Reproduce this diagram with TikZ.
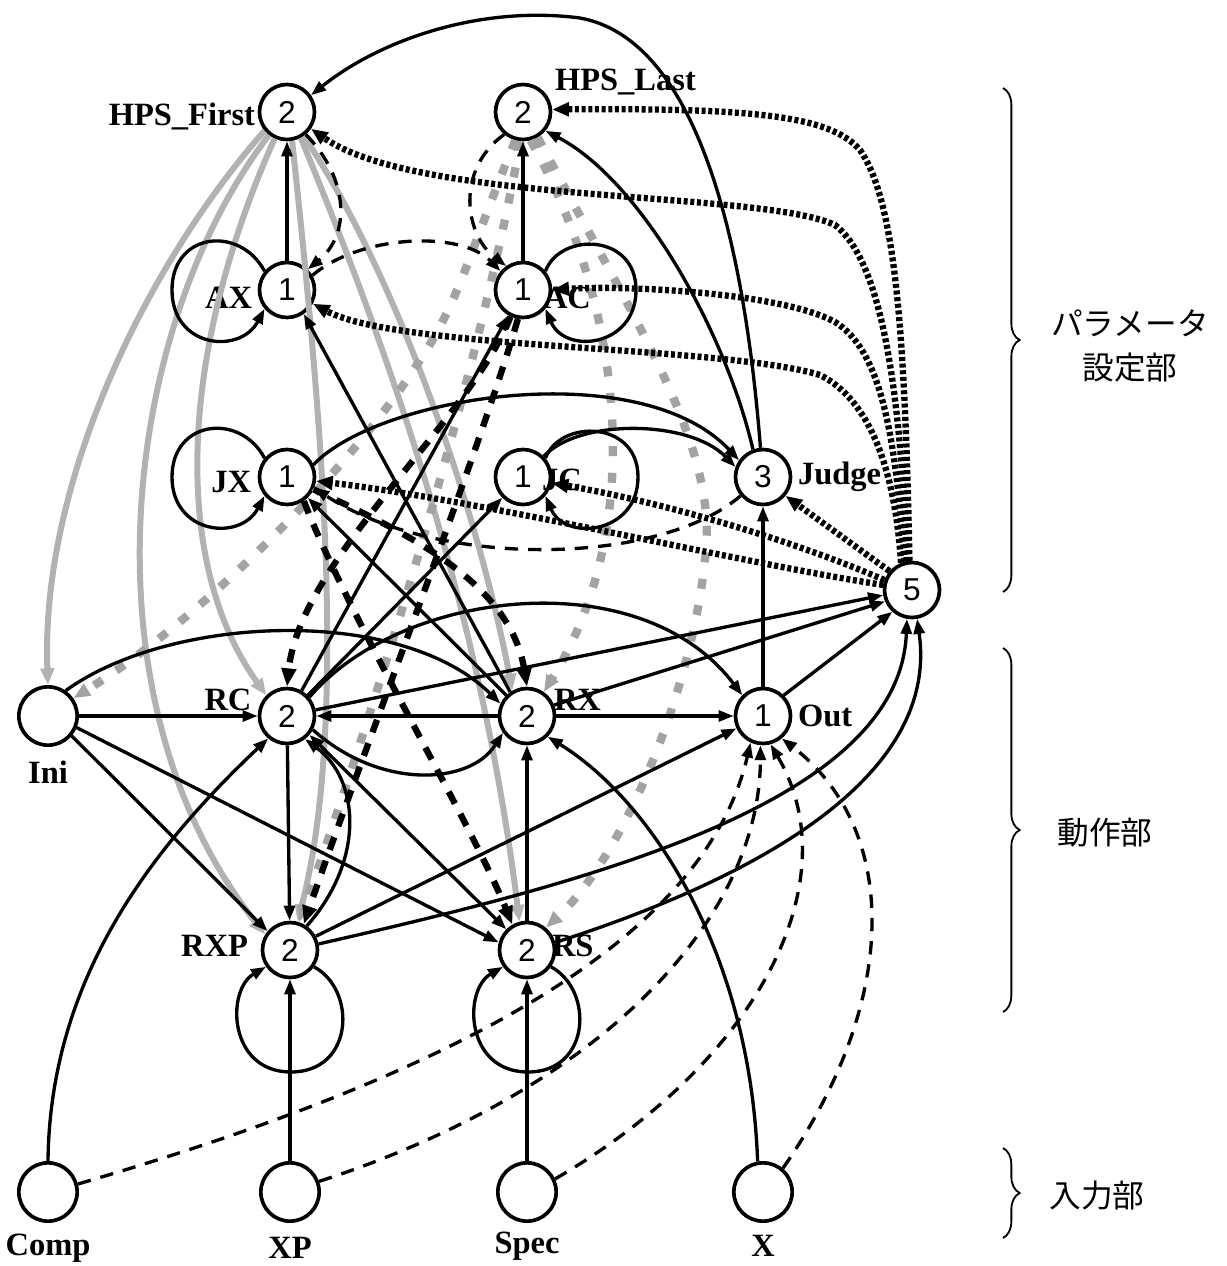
\documentclass[tikz,border=0pt]{standalone}
\usepackage{fontspec}
\setmainfont{Liberation Serif}
\newfontfamily\numfont{Liberation Sans}
\newfontfamily\jpfont{Noto Sans CJK JP}
\usetikzlibrary{arrows.meta,decorations.pathreplacing}
\begin{document}
\begin{tikzpicture}[x=0.6pt,y=-0.6pt,
  nd/.style={circle,draw,line width=2.2pt,minimum size=33pt,inner sep=0pt,font=\numfont\fontsize{19}{19}\selectfont},
  inp/.style={circle,draw,line width=2.2pt,minimum size=35pt,inner sep=0pt},
  lbl/.style={font=\bfseries\fontsize{19.5}{19.5}\selectfont,inner sep=1pt},
  jp/.style={font=\jpfont\fontsize{19}{26}\selectfont,align=center},
  tipa/.style={-{Triangle[length=9pt,width=6.5pt]}},
  sol/.style={line width=2pt,tipa},
  dsh/.style={line width=2pt,dash pattern=on 8pt off 6pt,tipa},
  tdsh/.style={line width=3.8pt,dash pattern=on 8pt off 7pt,-{Triangle[length=11pt,width=8.5pt]}},
  hatch/.style={line width=3.8pt,dash pattern=on 2.4pt off 1.6pt,-{Triangle[length=10pt,width=8pt]}},
  gdot/.style={draw=black!30,line width=3.6pt,-{Triangle[length=10pt,width=8pt,fill=black!30]}},
  gdsh/.style={draw=black!36,line width=5pt,dash pattern=on 6pt off 10pt,-{Triangle[length=10pt,width=8pt,fill=black!36]}},
  brc/.style={line width=1.1pt,decorate,decoration={brace,amplitude=10pt}}
]
\useasboundingbox (0,0) rectangle (1226,1266);

% nodes
\node[nd] (HF) at (287,112) {2};
\node[nd] (HL) at (523,112) {2};
\node[nd] (AX) at (287,290) {1};
\node[nd] (AC) at (523,290) {1};
\node[nd] (JX) at (287,477) {1};
\node[nd] (JC) at (523,477) {1};
\node[nd] (J) at (763,477) {3};
\node[nd] (F) at (912,590) {5};
\node[inp] (Ini) at (48,716) {};
\node[nd] (RC) at (287,716) {2};
\node[nd] (RX) at (527,716) {2};
\node[nd] (Out) at (763,716) {1};
\node[nd] (RXP) at (290,950) {2};
\node[nd] (RS) at (527,950) {2};
\node[inp] (Comp) at (48,1192) {};
\node[inp] (XP) at (290,1192) {};
\node[inp] (Spec) at (527,1192) {};
\node[inp] (Xn) at (763,1192) {};

% labels
\node[lbl,anchor=east] (lHF) at (257,116) {HPS\_First};
\node[lbl,anchor=west] (lHL) at (553,82) {HPS\_Last};
\node[lbl,anchor=east] (lAX) at (254,298) {AX};
\node[lbl,anchor=west] (lAC) at (542,298) {AC};
\node[lbl,anchor=east] (lJX) at (253,482) {JX};
\node[lbl,anchor=west] (lJC) at (540,480) {JC};
\node[lbl,anchor=west] (lJ) at (796,477) {Judge};
\node[lbl] (lRC) at (228,700) {RC};
\node[lbl,anchor=west] (lRX) at (552,700) {RX};
\node[lbl,anchor=west] (lOut) at (796,716) {Out};
\node[lbl] (lIni) at (48,772) {Ini};
\node[lbl,anchor=east] (lRXP) at (250,946) {RXP};
\node[lbl,anchor=west] (lRS) at (550,946) {RS};
\node[lbl] (lComp) at (48,1248) {Comp};
\node[lbl] (lXP) at (290,1248) {XP};
\node[lbl] (lSpec) at (527,1246) {Spec};
\node[lbl] (lX) at (763,1246) {X};

% gray stippled lines from HPS_First
\draw[gdot] (HF.-140) .. controls (150,260) and (40,480) .. (Ini.north);
\draw[gdot] (HF.-128) .. controls (120,330) and (80,700) .. (RXP.148);
\draw[gdot] (HF.-115) .. controls (180,350) and (170,560) .. (RC.135);
\draw[gdot] (HF.-80) .. controls (320,400) and (350,720) .. (RXP.75);
\draw[gdot] (HF.-62) .. controls (380,330) and (480,600) .. (RS.105);
\draw[gdot] (HF.-55) .. controls (400,280) and (480,520) .. (RX.120);

% gray dashed lines from HPS_Last
\draw[gdsh] (HL.-105) .. controls (470,250) and (460,300) .. (420,360) .. controls (350,470) and (200,620) .. (Ini.35);
\draw[gdsh] (HL.-60) .. controls (640,330) and (720,450) .. (705,560) .. controls (690,700) and (620,860) .. (RS.50);
\draw[gdsh] (HL.-75) .. controls (620,300) and (650,520) .. (RX.55);
\draw[gdsh] (HL.-95) .. controls (470,420) and (350,780) .. (RXP.72);

% hatched lines from 5
\draw[hatch] (F.95) .. controls (905,330) and (895,200) .. (860,150) .. controls (830,115) and (750,108) .. (HL.5);
\draw[hatch] (F.100) .. controls (900,380) and (880,260) .. (835,225) .. controls (760,190) and (420,205) .. (HF.-35);
\draw[hatch] (F.105) .. controls (895,430) and (880,350) .. (835,322) .. controls (780,292) and (620,285) .. (AC.0);
\draw[hatch] (F.112) .. controls (895,470) and (870,400) .. (820,375) .. controls (720,345) and (400,350) .. (AX.-28);
\draw[hatch] (F.140) -- (J.-40);
\draw[hatch] (F.160) .. controls (780,535) and (650,500) .. (JC.-12);
\draw[hatch] (F.170) .. controls (750,565) and (480,500) .. (JX.-8);

% thin dashed
\draw[dsh] (HF.-50) .. controls (350,180) and (350,235) .. (AX.45);
\draw[dsh] (AX.30) .. controls (360,235) and (460,230) .. (AC.140);
\draw[dsh] (HL.-130) .. controls (455,170) and (465,235) .. (AC.125);
\draw[dsh] (J.-140) .. controls (660,565) and (440,570) .. (JX.-22);
\draw[dsh] (Comp.15) .. controls (400,1090) and (700,960) .. (Out.-115);
\draw[dsh] (XP.20) .. controls (600,1090) and (760,920) .. (Out.-95);
\draw[dsh] (Spec.25) .. controls (760,1060) and (850,880) .. (Out.-75);
\draw[dsh] (Xn.50) .. controls (900,1000) and (900,830) .. (Out.-50);

% thick dashed
\draw[tdsh] (AC.-115) .. controls (470,420) and (300,560) .. (RC.north);
\draw[tdsh] (AC.-100) .. controls (480,450) and (360,760) .. (RXP.62);
\draw[tdsh] (JX.-25) .. controls (400,530) and (510,580) .. (RX.north);
\draw[tdsh] (JX.-55) .. controls (350,620) and (470,820) .. (RS.120);

% solid
\draw[sol] (AX) -- (HF);
\draw[sol] (AC) -- (HL);
\draw[sol] (J.95) .. controls (745,250) and (700,40) .. (580,18) .. controls (480,5) and (380,40) .. (HF.35);
\draw[sol] (J.110) .. controls (725,330) and (640,180) .. (HL.-40);
\draw[sol] (AX.140) .. controls (240,225) and (172,232) .. (172,290) .. controls (172,348) and (240,355) .. (AX.-140);
\draw[sol] (AC.40) .. controls (560,232) and (636,233) .. (636,290) .. controls (636,347) and (565,355) .. (AC.-40);
\draw[sol] (JX.140) .. controls (240,412) and (172,420) .. (172,477) .. controls (172,534) and (240,542) .. (JX.-140);
\draw[sol] (JC.40) .. controls (560,419) and (638,420) .. (638,477) .. controls (638,534) and (565,542) .. (JC.-40);
\draw[sol] (RXP.-35) .. controls (357,990) and (354,1072) .. (291,1072) .. controls (228,1072) and (226,990) .. (RXP.-145);
\draw[sol] (RS.-35) .. controls (594,990) and (591,1072) .. (528,1072) .. controls (465,1072) and (463,990) .. (RS.-145);
\draw[sol] (JX.25) .. controls (380,395) and (640,355) .. (J.145);
\draw[sol] (JC.45) .. controls (580,418) and (690,420) .. (J.160);
\draw[sol] (Out) -- (J);
\draw[sol] (RX.125) -- (AX.-55);
\draw[sol] (RC.60) -- (AC.-120);
\draw[sol] (RC.45) -- (JC.-135);
\draw[sol] (RX.135) -- (JX.-45);
\draw[sol] (Ini) -- (RC);
\draw[sol] (Ini.55) .. controls (170,615) and (400,605) .. (RX.155);
\draw[sol] (Ini.-40) -- (RXP.140);
\draw[sol] (Ini.-22) -- (RS.165);
\draw[sol] (RC) -- (RXP);
\draw[sol] (RXP.55) .. controls (365,860) and (360,780) .. (RC.-52);
\draw[sol,{Triangle[length=9pt,width=6.5pt]}-{Triangle[length=9pt,width=6.5pt]}] (RS.135) -- (RC.-40);
\draw[sol] (RC.-28) .. controls (380,790) and (470,785) .. (RX.-145);
\draw[sol] (RX) -- (RC);
\draw[sol] (RX) -- (Out);
\draw[sol] (RC.40) .. controls (400,590) and (640,560) .. (Out.135);
\draw[sol] (RC.12) -- (F.190);
\draw[sol] (RX.22) -- (F.203);
\draw[sol] (Out.45) -- (F.228);
\draw[sol] (RXP.28) -- (Out.-155);
\draw[sol] (RXP.12) .. controls (600,880) and (900,800) .. (F.-100);
\draw[sol] (RS.15) .. controls (750,880) and (940,780) .. (F.-80);
\draw[sol] (Xn.100) .. controls (750,950) and (650,800) .. (RX.-45);
\draw[sol] (Comp.north) .. controls (50,980) and (150,850) .. (RC.-130);
\draw[sol] (XP) -- (RXP);
\draw[sol] (Spec) -- (RS);
\draw[sol] (RS) -- (RX);

% braces and section labels
\draw[brc] (1003,88) -- (1003,592);
\draw[brc] (1003,648) -- (1003,1012);
\draw[brc] (1003,1148) -- (1003,1238);
\node[jp] (tP) at (1130,346) {パラメータ\\設定部};
\node[jp] (tD) at (1105,833) {動作部};
\node[jp] (tI) at (1097,1196) {入力部};
\end{tikzpicture}
\end{document}
